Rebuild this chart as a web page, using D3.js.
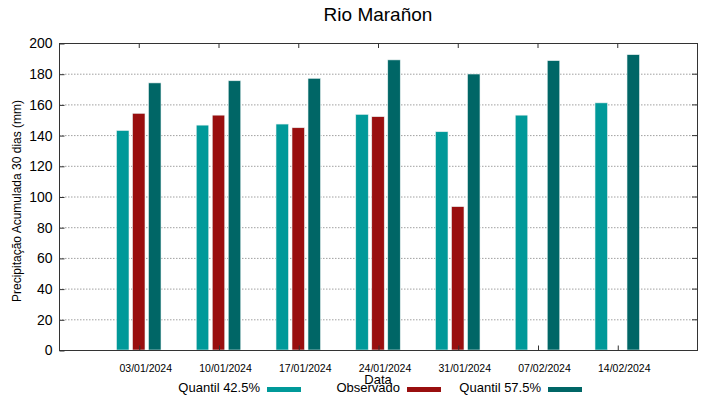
<!DOCTYPE html>
<html>
<head>
<meta charset="utf-8">
<script src="https://cdn.jsdelivr.net/npm/d3@7"></script>
<style>
  body { margin: 0; background: #fff; }
  svg text { font-family: "Liberation Sans", Arial, sans-serif; fill: #000; }
</style>
</head>
<body>
<svg id="chart" width="719" height="399"></svg>
<script>
'use strict';

var dates = ['03/01/2024', '10/01/2024', '17/01/2024', '24/01/2024', '31/01/2024', '07/02/2024', '14/02/2024'];
var quantil425 = [143, 146.5, 147.2, 153.5, 142.2, 153, 161];
var observado = [154.2, 153, 144.8, 152, 93.4, null, null];
var quantil575 = [174, 175.4, 177, 189, 179.8, 188.5, 192.4];
var yTicks = [0, 20, 40, 60, 80, 100, 120, 140, 160, 180, 200];

var series = [
    { name: 'Quantil 42.5%', values: quantil425, color: '#009999', offset: -16 },
    { name: 'Observado', values: observado, color: '#990f0f', offset: 0 },
    { name: 'Quantil 57.5%', values: quantil575, color: '#006666', offset: 16 }
];

var svg = d3.select('#chart');
var plot = { left: 59, right: 697, top: 43, bottom: 350 };
var barWidth = 12.5;

var x = d3.scaleLinear().domain([-1, dates.length]).range([plot.left, plot.right]);
var y = d3.scaleLinear().domain([0, 200]).range([plot.bottom, plot.top]);

// grid
svg.append('g')
    .selectAll('line')
    .data(yTicks.filter(function (d) { return d > 0 && d < 200; }))
    .enter().append('line')
        .attr('x1', plot.left)
        .attr('x2', plot.right)
        .attr('y1', function (d) { return y(d) + 0.5; })
        .attr('y2', function (d) { return y(d) + 0.5; })
        .attr('stroke', '#a0a0a0')
        .attr('stroke-width', 1)
        .attr('stroke-dasharray', '1.5,1.5');

// bars
series.forEach(function (s) {
    svg.append('g')
        .selectAll('rect')
        .data(s.values.map(function (v, i) { return { v: v, i: i }; })
            .filter(function (d) { return d.v !== null; }))
        .enter().append('rect')
            .attr('x', function (d) { return x(d.i) + s.offset - barWidth / 2; })
            .attr('y', function (d) { return y(d.v); })
            .attr('width', barWidth)
            .attr('height', function (d) { return y(0) - y(d.v); })
            .attr('fill', s.color)
            .attr('stroke', '#e8f0f0')
            .attr('stroke-width', 0.6);
});

// frame
svg.append('rect')
    .attr('x', plot.left + 0.5)
    .attr('y', plot.top + 0.5)
    .attr('width', plot.right - plot.left)
    .attr('height', plot.bottom - plot.top)
    .attr('fill', 'none')
    .attr('stroke', '#333')
    .attr('stroke-width', 1);

// y axis
var yAxis = svg.append('g')
    .attr('transform', 'translate(' + (plot.left + 0.5) + ',0.5)')
    .call(d3.axisLeft(y).tickValues(yTicks).tickSizeInner(-5).tickSizeOuter(0).tickPadding(7));
yAxis.select('.domain').remove();
yAxis.selectAll('.tick line').attr('stroke', '#333');
yAxis.selectAll('text').style('font-size', '14px').attr('fill', '#000');

// mirrored ticks on right
svg.append('g')
    .selectAll('line')
    .data(yTicks)
    .enter().append('line')
        .attr('x1', plot.right - 5)
        .attr('x2', plot.right)
        .attr('y1', function (d) { return y(d) + 0.5; })
        .attr('y2', function (d) { return y(d) + 0.5; })
        .attr('stroke', '#333');

// x axis
var xAxis = svg.append('g')
    .attr('transform', 'translate(0.5,' + (plot.bottom + 0.5) + ')')
    .call(d3.axisBottom(x).tickValues(d3.range(dates.length))
        .tickFormat(function (i) { return dates[i]; })
        .tickSizeInner(-5).tickSizeOuter(0).tickPadding(14));
xAxis.select('.domain').remove();
xAxis.selectAll('.tick line').attr('stroke', '#333');
xAxis.selectAll('text')
    .attr('dx', 6)
    .style('font-size', '10.5px')
    .attr('fill', '#000');

// top ticks
svg.append('g')
    .selectAll('line')
    .data(d3.range(dates.length))
    .enter().append('line')
        .attr('x1', function (i) { return x(i) + 0.5; })
        .attr('x2', function (i) { return x(i) + 0.5; })
        .attr('y1', plot.top)
        .attr('y2', plot.top + 5)
        .attr('stroke', '#333');

// title and axis labels
svg.append('text')
    .attr('x', 378)
    .attr('y', 21)
    .attr('text-anchor', 'middle')
    .style('font-size', '19px')
    .text('Rio Marañon');

svg.append('text')
    .attr('x', 378)
    .attr('y', 384)
    .attr('text-anchor', 'middle')
    .style('font-size', '13px')
    .text('Data');

svg.append('text')
    .attr('transform', 'translate(21,201) rotate(-90)')
    .attr('text-anchor', 'middle')
    .style('font-size', '12px')
    .text('Precipitação Acumulada 30 dias (mm)');

// legend
var legendX = [260, 400, 541];
var legend = svg.append('g')
    .selectAll('g')
    .data(series)
    .enter().append('g')
        .attr('transform', function (d, i) { return 'translate(' + legendX[i] + ',392)'; });

legend.append('text')
    .attr('x', 0)
    .attr('y', 0)
    .attr('text-anchor', 'end')
    .style('font-size', '13px')
    .text(function (d) { return d.name; });

legend.append('rect')
    .attr('x', 7)
    .attr('y', -5)
    .attr('width', 34)
    .attr('height', 5)
    .attr('fill', function (d) { return d.color; });
</script>
</body>
</html>
